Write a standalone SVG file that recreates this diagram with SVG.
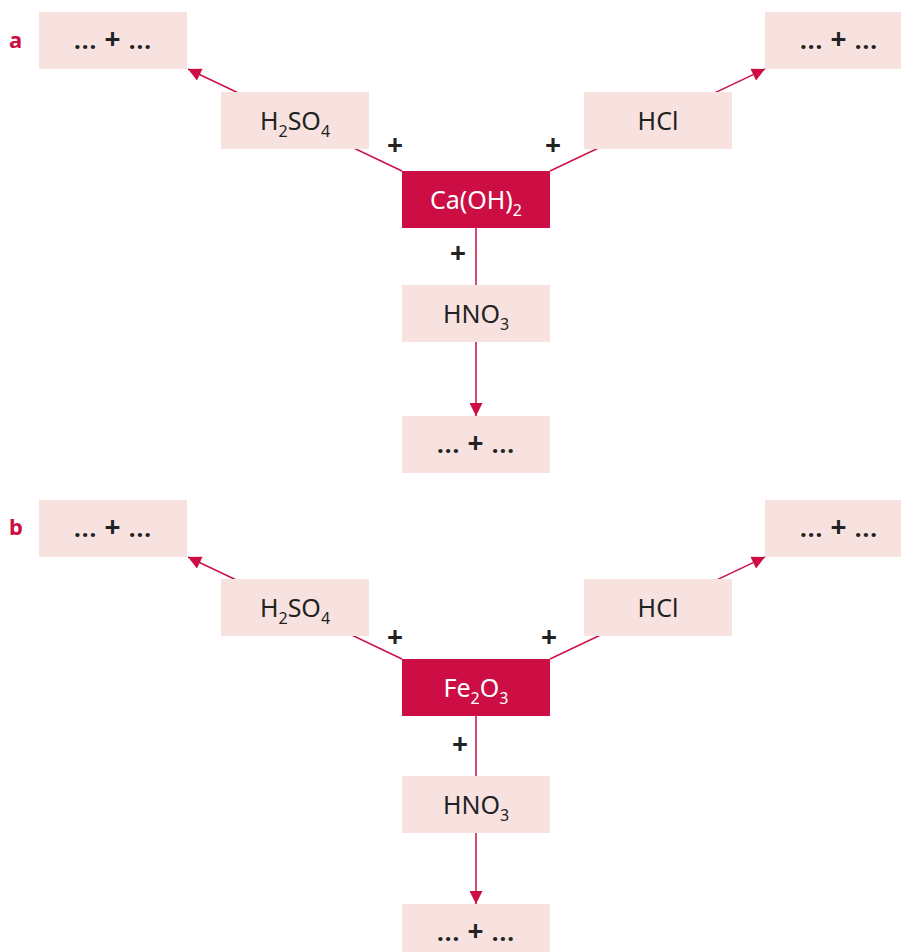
<svg xmlns="http://www.w3.org/2000/svg" width="901" height="952" viewBox="0 0 901 952">
<defs>
<marker id="ah" viewBox="0 0 10 10" refX="10" refY="5" markerUnits="userSpaceOnUse" markerWidth="16" markerHeight="13" orient="auto">
<path d="M0,0 L10,5 L0,10 z" fill="#cc0e44"/>
</marker>
<style>
.box{fill:#f8e2e0}
.main{fill:#cc0e44}
.t{font-family:"Noto Sans","Liberation Sans",sans-serif;font-size:25px;fill:#222;text-anchor:middle}
.p{font-weight:bold;font-size:24px;letter-spacing:1px}
.pp{font-size:28px}
.tw{fill:#fff}
.sub{font-size:16px}
.plus{font-family:"Noto Sans","Liberation Sans",sans-serif;font-size:28px;font-weight:bold;fill:#222;text-anchor:middle}
.lab{font-family:"Noto Sans","Liberation Sans",sans-serif;font-size:22px;font-weight:bold;fill:#cc0e44}
.c{stroke:#cc0e44;stroke-width:1.5;fill:none}
</style>
</defs>
<rect width="901" height="952" fill="#fff"/>
<g id="connectors">
<line class="c" x1="402" y1="171" x2="188" y2="69" marker-end="url(#ah)"/>
<line class="c" x1="550" y1="171" x2="765" y2="69" marker-end="url(#ah)"/>
<line class="c" x1="476" y1="228" x2="476" y2="416" marker-end="url(#ah)"/>
<line class="c" x1="402" y1="659" x2="188" y2="557" marker-end="url(#ah)"/>
<line class="c" x1="550" y1="659" x2="765" y2="557" marker-end="url(#ah)"/>
<line class="c" x1="476" y1="716" x2="476" y2="904" marker-end="url(#ah)"/>
</g>
<g id="labels">
<text class="lab" x="9" y="48">a</text>
<text class="lab" x="9" y="535">b</text>
<text class="plus" x="395" y="155">+</text>
<text class="plus" x="553" y="155">+</text>
<text class="plus" x="458" y="263">+</text>
<text class="plus" x="395" y="647">+</text>
<text class="plus" x="549" y="647">+</text>
<text class="plus" x="460" y="754">+</text>
</g>
<g id="a-prod-left"><rect class="box" x="39" y="12" width="148" height="57"/><text class="t p" x="113" y="49">... <tspan class="pp">+</tspan> ...</text></g>
<g id="a-h2so4"><rect class="box" x="221" y="92" width="148" height="57"/><text class="t" x="295" y="130">H<tspan class="sub" dy="7">2</tspan><tspan dy="-7">SO</tspan><tspan class="sub" dy="7">4</tspan></text></g>
<g id="a-hcl"><rect class="box" x="584" y="92" width="148" height="57"/><text class="t" x="658" y="130">HCl</text></g>
<g id="a-prod-right"><rect class="box" x="765" y="12" width="148" height="57"/><text class="t p" x="839" y="49">... <tspan class="pp">+</tspan> ...</text></g>
<g id="a-caoh2"><rect class="main" x="402" y="171" width="148" height="57"/><text class="t tw" x="476" y="209">Ca(OH)<tspan class="sub" dy="7">2</tspan></text></g>
<g id="a-hno3"><rect class="box" x="402" y="285" width="148" height="57"/><text class="t" x="476" y="323">HNO<tspan class="sub" dy="7">3</tspan></text></g>
<g id="a-prod-bottom"><rect class="box" x="402" y="416" width="148" height="57"/><text class="t p" x="476" y="453">... <tspan class="pp">+</tspan> ...</text></g>
<g id="b-prod-left"><rect class="box" x="39" y="500" width="148" height="57"/><text class="t p" x="113" y="537">... <tspan class="pp">+</tspan> ...</text></g>
<g id="b-h2so4"><rect class="box" x="221" y="579" width="148" height="57"/><text class="t" x="295" y="617">H<tspan class="sub" dy="7">2</tspan><tspan dy="-7">SO</tspan><tspan class="sub" dy="7">4</tspan></text></g>
<g id="b-hcl"><rect class="box" x="584" y="579" width="148" height="57"/><text class="t" x="658" y="617">HCl</text></g>
<g id="b-prod-right"><rect class="box" x="765" y="500" width="148" height="57"/><text class="t p" x="839" y="537">... <tspan class="pp">+</tspan> ...</text></g>
<g id="b-fe2o3"><rect class="main" x="402" y="659" width="148" height="57"/><text class="t tw" x="476" y="697">Fe<tspan class="sub" dy="7">2</tspan><tspan dy="-7">O</tspan><tspan class="sub" dy="7">3</tspan></text></g>
<g id="b-hno3"><rect class="box" x="402" y="776" width="148" height="57"/><text class="t" x="476" y="814">HNO<tspan class="sub" dy="7">3</tspan></text></g>
<g id="b-prod-bottom"><rect class="box" x="402" y="904" width="148" height="57"/><text class="t p" x="476" y="941">... <tspan class="pp">+</tspan> ...</text></g>
</svg>
